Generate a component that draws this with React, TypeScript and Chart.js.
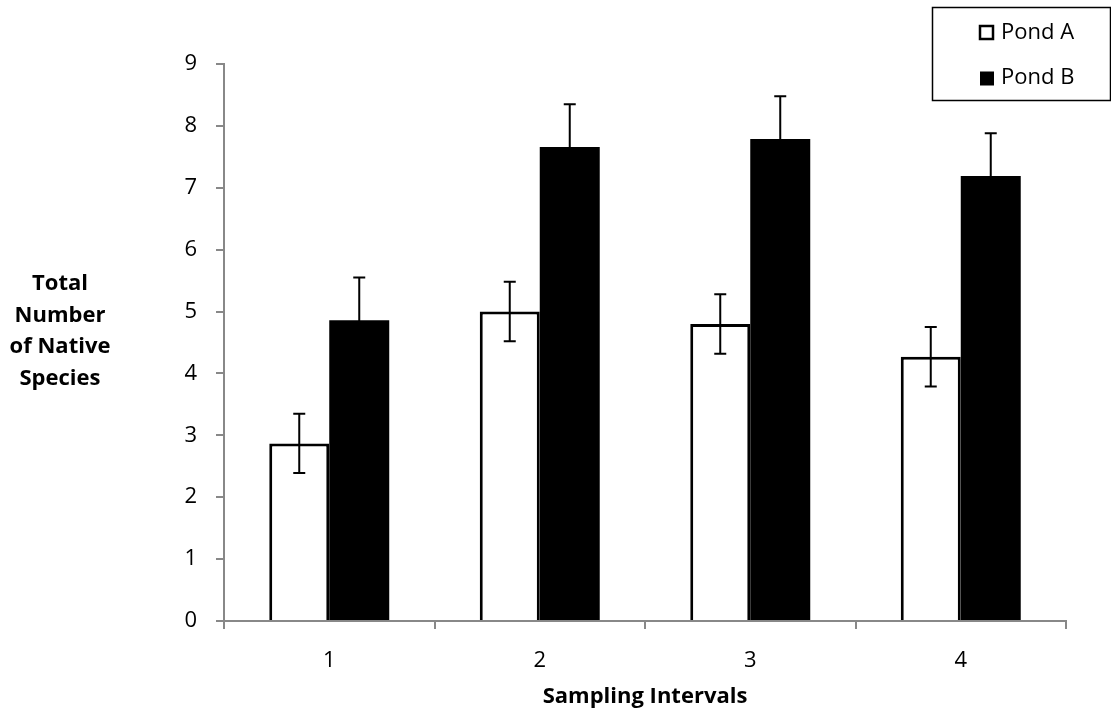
import React, { useEffect, useRef } from 'react';
import { Chart, registerables } from 'chart.js';

Chart.register(...registerables);

const categories = ['1', '2', '3', '4'];
const seriesNames = ['Pond A', 'Pond B'];
const pondA = [2.87, 5.0, 4.8, 4.27];
const pondB = [4.86, 7.66, 7.79, 7.19];
const errA = [0.48, 0.48, 0.48, 0.48];
const errB = [0.69, 0.69, 0.69, 0.69];
const yMin = 0;
const yMax = 9;
const yStep = 1;
const yTitleLines = ['Total', 'Number', 'of Native', 'Species'];
const xTitle = 'Sampling Intervals';

const FONT = "'Open Sans', 'DejaVu Sans', sans-serif";
const errors = [errA, errB];

const errorBarPlugin = {
  id: 'errorBars',
  afterDatasetsDraw(chart: any) {
    const ctx = chart.ctx;
    const y = chart.scales.y;
    ctx.save();
    ctx.strokeStyle = '#000';
    ctx.lineWidth = 2;
    chart.data.datasets.forEach((ds: any, di: number) => {
      const meta = chart.getDatasetMeta(di);
      meta.data.forEach((bar: any, i: number) => {
        const v = ds.data[i];
        const e = errors[di][i];
        const x = bar.x;
        const top = y.getPixelForValue(v + e);
        const bot = y.getPixelForValue(v - e);
        const cap = 6;
        ctx.beginPath();
        ctx.moveTo(x, top);
        ctx.lineTo(x, bot);
        ctx.moveTo(x - cap, top);
        ctx.lineTo(x + cap, top);
        ctx.moveTo(x - cap, bot);
        ctx.lineTo(x + cap, bot);
        ctx.stroke();
      });
    });
    ctx.restore();
  },
};

const yTitlePlugin = {
  id: 'yTitleLines',
  afterDraw(chart: any) {
    const ctx = chart.ctx;
    ctx.save();
    ctx.fillStyle = '#000';
    ctx.font = `bold 22px ${FONT}`;
    ctx.textAlign = 'center';
    ctx.textBaseline = 'middle';
    const cx = 60;
    const startY = 284;
    const lh = 31.5;
    yTitleLines.forEach((t, i) => ctx.fillText(t, cx, startY + i * lh));
    ctx.restore();
  },
};

const legendPlugin = {
  id: 'boxLegend',
  afterDraw(chart: any) {
    const ctx = chart.ctx;
    ctx.save();
    ctx.strokeStyle = '#000';
    ctx.lineWidth = 1.5;
    ctx.strokeRect(932.5, 7.5, 178, 93);
    ctx.font = `22px ${FONT}`;
    ctx.textAlign = 'left';
    ctx.textBaseline = 'middle';
    chart.data.datasets.forEach((ds: any, i: number) => {
      const cy = 32.5 + i * 45.5;
      if (i === 0) {
        ctx.fillStyle = '#fff';
        ctx.fillRect(980, cy - 6.5, 13, 13);
        ctx.lineWidth = 2.5;
        ctx.strokeStyle = '#000';
        ctx.strokeRect(980, cy - 6.5, 13, 13);
      } else {
        ctx.fillStyle = '#000';
        ctx.fillRect(980, cy - 6.5, 14, 14);
      }
      ctx.fillStyle = '#000';
      ctx.fillText(ds.label, 1001, cy);
    });
    ctx.restore();
  },
};

export default function App() {
  const ref = useRef<HTMLCanvasElement>(null);
  useEffect(() => {
    if (!ref.current) return;
    const chart = new Chart(ref.current, {
      type: 'bar',
      data: {
        labels: categories,
        datasets: [
          {
            label: seriesNames[0],
            data: pondA,
            backgroundColor: '#ffffff',
            borderColor: '#000000',
            borderWidth: 3,
            categoryPercentage: 0.57,
            barPercentage: 1.0,
          },
          {
            label: seriesNames[1],
            data: pondB,
            backgroundColor: '#000000',
            borderColor: '#000000',
            borderWidth: 0,
            categoryPercentage: 0.57,
            barPercentage: 1.0,
          },
        ],
      },
      options: {
        animation: false,
        responsive: false,
        maintainAspectRatio: false,
        layout: { padding: { left: 0, top: 64, right: 45, bottom: 0 } },
        plugins: {
          legend: { display: false },
          tooltip: { enabled: false },
          title: { display: false },
        },
        scales: {
          x: {
            grid: {
              display: true,
              drawOnChartArea: false,
              drawTicks: true,
              tickLength: 8,
              color: '#888',
              lineWidth: 2,
            },
            border: { display: true, color: '#888', width: 2 },
            ticks: { color: '#000', font: { family: FONT, size: 22 }, padding: 19 },
            title: {
              display: true,
              text: xTitle,
              color: '#000',
              font: { family: FONT, size: 22, weight: 'bold' },
              padding: { top: 0, bottom: 0 },
            },
            afterFit(scale: any) {
              scale.height = 89;
            },
          },
          y: {
            min: yMin,
            max: yMax,
            ticks: {
              stepSize: yStep,
              color: '#000',
              font: { family: FONT, size: 22 },
              padding: 19,
            },
            grid: {
              display: true,
              drawOnChartArea: false,
              drawTicks: true,
              tickLength: 8,
              color: '#888',
              lineWidth: 2,
            },
            border: { display: true, color: '#888', width: 2 },
            afterFit(scale: any) {
              scale.width = 224;
            },
          },
        },
      },
      plugins: [errorBarPlugin, yTitlePlugin, legendPlugin],
    });
    return () => chart.destroy();
  }, []);
  return (
    <div style={{ position: 'fixed', left: 0, top: 0, width: 1111, height: 710, background: '#fff' }}>
      <canvas ref={ref} width={1111} height={710} style={{ width: 1111, height: 710 }} />
    </div>
  );
}
